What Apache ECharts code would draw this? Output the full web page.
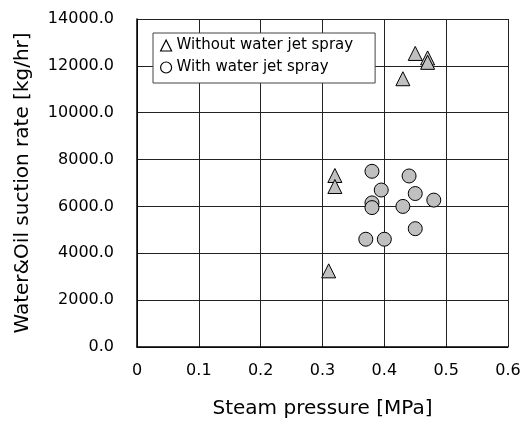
<!DOCTYPE html>
<html>
<head>
<meta charset="utf-8">
<script src="https://cdn.jsdelivr.net/npm/echarts@6/dist/echarts.min.js"></script>
<style>html,body{margin:0;padding:0;background:#fff;}#c{width:530px;height:424px;}</style>
</head>
<body>
<div id="c"></div>
<script>
const seriesNames = ['Without water jet spray', 'With water jet spray'];
const withoutX = [0.32, 0.32, 0.31, 0.45, 0.47, 0.47, 0.43];
const withoutY = [7320, 6850, 3250, 12530, 12340, 12150, 11450];
const withX = [0.38, 0.44, 0.395, 0.45, 0.48, 0.38, 0.38, 0.43, 0.45, 0.37, 0.40];
const withY = [7500, 7300, 6700, 6550, 6270, 6150, 5950, 6000, 5050, 4600, 4600];
const xTicks = [0, 0.1, 0.2, 0.3, 0.4, 0.5, 0.6];
const yTicks = [0, 2000, 4000, 6000, 8000, 10000, 12000, 14000];

const pair = (xs, ys) => xs.map((x, i) => [x, ys[i]]);
const FONT = 'DejaVu Sans';
const chart = echarts.init(document.getElementById('c'), null, {renderer: 'canvas'});
chart.setOption({
  animation: false,
  backgroundColor: '#fff',
  grid: {left: 137, right: 22, top: 19, bottom: 76},
  xAxis: {
    type: 'value', min: xTicks[0], max: xTicks[xTicks.length - 1], interval: 0.1,
    name: 'Steam pressure [MPa]', nameLocation: 'middle', nameGap: 52,
    nameTextStyle: {fontFamily: FONT, fontSize: 20, color: '#000'},
    axisLine: {show: true, onZero: false, lineStyle: {color: '#000', width: 1.5}},
    axisTick: {show: false},
    axisLabel: {fontFamily: FONT, fontSize: 16, color: '#000', margin: 16,
      formatter: v => v === 0 ? '0' : v.toFixed(1)},
    splitLine: {show: true, lineStyle: {color: '#222', width: 1}}
  },
  yAxis: {
    type: 'value', min: yTicks[0], max: yTicks[yTicks.length - 1], interval: 2000,
    name: 'Water&Oil suction rate [kg/hr]', nameLocation: 'middle', nameGap: 104,
    nameTextStyle: {fontFamily: FONT, fontSize: 20, color: '#000'},
    axisLine: {show: true, lineStyle: {color: '#000', width: 1.5}},
    axisTick: {show: false},
    axisLabel: {fontFamily: FONT, fontSize: 16, color: '#000', margin: 23,
      formatter: v => v.toFixed(1)},
    splitLine: {show: true, lineStyle: {color: '#222', width: 1}}
  },
  legend: {
    orient: 'vertical', left: 153, top: 33,
    backgroundColor: '#fff', borderColor: '#444', borderWidth: 1,
    padding: [5, 22, 8, 7], itemGap: 7, itemWidth: 11, itemHeight: 11,
    textStyle: {fontFamily: FONT, fontSize: 15, color: '#000'},
    data: [
      {name: seriesNames[0], icon: 'triangle', itemStyle: {color: '#fff', borderColor: '#000', borderWidth: 1.2}},
      {name: seriesNames[1], icon: 'circle', itemStyle: {color: '#fff', borderColor: '#000', borderWidth: 1.2}}
    ]
  },
  series: [
    {
      name: seriesNames[0], type: 'scatter', symbol: 'triangle', symbolSize: 14,
      data: pair(withoutX, withoutY),
      itemStyle: {color: '#c0c0c0', borderColor: '#000', borderWidth: 1, opacity: 1}
    },
    {
      name: seriesNames[1], type: 'scatter', symbol: 'circle', symbolSize: 14,
      data: pair(withX, withY),
      itemStyle: {color: '#c0c0c0', borderColor: '#000', borderWidth: 1, opacity: 1}
    }
  ]
});
</script>
</body>
</html>
